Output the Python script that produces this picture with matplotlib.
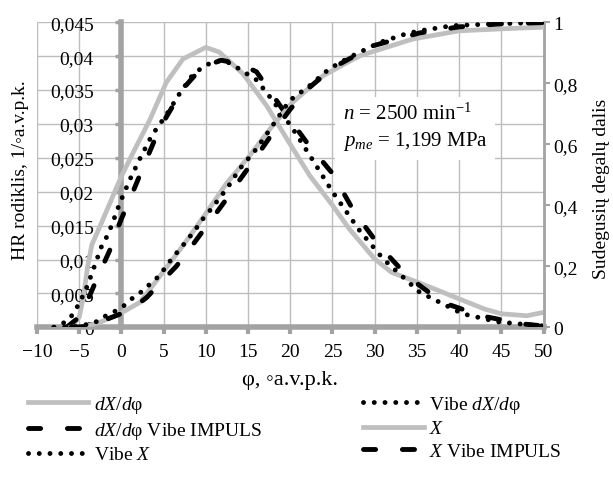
import matplotlib.pyplot as plt

plt.rcParams['font.family'] = ['Liberation Serif', 'DejaVu Serif']
plt.rcParams['mathtext.fontset'] = 'custom'
plt.rcParams['mathtext.rm'] = 'Liberation Serif'
plt.rcParams['mathtext.it'] = 'Liberation Serif:italic'

# HR rodiklis (left axis), crank angle in deg
dx_phi = [-6, -5, -4.5, -4, -3.5, -2.5, -1.2, 0, 1.4, 3.4, 5.3, 7.3, 10, 11.6, 14.4,
          17.2, 19.6, 22.3, 25, 27, 30, 32, 35, 40, 43, 45, 48, 50]
dx_val = [0, 0.0015, 0.0045, 0.009, 0.0122, 0.015, 0.0188, 0.0223, 0.0258, 0.0307,
          0.0361, 0.0396, 0.0413, 0.0406, 0.0374, 0.0327, 0.0278, 0.0224, 0.018,
          0.0145, 0.0101, 0.0081, 0.0067, 0.0042, 0.0027, 0.002, 0.0017, 0.0022]

vibe_dx_phi = [-8, -7, -6, -5, -4, -3, -2.4, -1.8, -1.2, -0.2, 1.0, 2.2, 3.6, 5.3, 6.9,
               8.3, 9.7, 11.0, 12.2, 13.6, 16.0, 17.9, 20.3, 22.7, 25.0, 28.2, 31.0,
               35.3, 40.4, 44.6, 48.9, 50]
vibe_dx_val = [0, 0.0005, 0.0015, 0.0035, 0.0062, 0.0097, 0.0118, 0.0132, 0.0149,
               0.0183, 0.0218, 0.0249, 0.0283, 0.0313, 0.0345, 0.037, 0.0385, 0.0392,
               0.0394, 0.0384, 0.0365, 0.0335, 0.0293, 0.0246, 0.02, 0.0143, 0.0101,
               0.0052, 0.002, 0.0008, 0.0003, 0.0002]

imp_dx_phi = [-6.5, -5, -4, -2.6, -1.4, -0.8, 0, 1.2, 2.6, 4.5, 7.3, 9.5, 11.8, 14, 16,
              19.3, 22, 25, 27.6, 30.5, 33.9, 38, 42.6, 47.5, 50]
imp_dx_val = [0, 0.0015, 0.004, 0.008, 0.0113, 0.0135, 0.016, 0.0195, 0.0237, 0.0293,
              0.0352, 0.0383, 0.0394, 0.0389, 0.0377, 0.0318, 0.0272, 0.0227, 0.017,
              0.0121, 0.0075, 0.0037, 0.0017, 0.0005, 0.0002]

# Sudegusiu degalu dalis (right axis)
x_phi = [-6, -5, -4, -2.6, -0.2, 2.2, 4.9, 7.3, 10.1, 12.4, 15.2, 17.9, 20.3, 23.9,
         28.2, 34.5, 40, 46.3, 50]
x_val = [0, 0.001, 0.005, 0.016, 0.044, 0.082, 0.18, 0.268, 0.377, 0.47, 0.563, 0.661,
         0.738, 0.825, 0.89, 0.945, 0.972, 0.98, 0.984]

vibe_x_phi = [-8, -6, -5, -4, -3, -2.4, -1, 0.1, 1.2, 2.4, 3.4, 4.5, 5.3, 6.2, 7.1, 8,
              8.9, 9.7, 10.7, 11.6, 12.6, 14, 16, 17.9, 19.9, 22.3, 24.6, 27, 30.6,
              33.7, 35.3, 39.2, 43.6, 47.9, 50]
vibe_x_val = [0, 0.001, 0.004, 0.01, 0.018, 0.03, 0.049, 0.066, 0.093, 0.117, 0.142,
              0.169, 0.2, 0.233, 0.262, 0.293, 0.326, 0.357, 0.39, 0.423, 0.459, 0.519,
              0.585, 0.661, 0.743, 0.792, 0.847, 0.885, 0.934, 0.962, 0.972, 0.989,
              0.994, 0.998, 0.999]

imp_x_phi = [-6, -5, -4, -3, -1.4, 0, 1.0, 3.0, 4.7, 6.5, 7.9, 9.5, 11, 12.6, 13.8, 16,
             18, 20, 22, 25, 29.8, 35.3, 40, 45, 50]
imp_x_val = [0, 0.001, 0.004, 0.012, 0.03, 0.045, 0.055, 0.098, 0.148, 0.2, 0.25, 0.31,
             0.366, 0.426, 0.475, 0.56, 0.64, 0.715, 0.78, 0.85, 0.923, 0.965, 0.985,
             0.995, 0.999]

x_ticks = [-10, -5, 0, 5, 10, 15, 20, 25, 30, 35, 40, 45, 50]
x_ticklabels = ['\u221210', '\u22125', '0', '5', '10', '15', '20', '25', '30', '35',
                '40', '45', '50']
y_ticks = [0, 0.005, 0.01, 0.015, 0.02, 0.025, 0.03, 0.035, 0.04, 0.045]
y_ticklabels = ['0', '0,005', '0,01', '0,015', '0,02', '0,025', '0,03', '0,035',
                '0,04', '0,045']
y2_ticks = [0, 0.2, 0.4, 0.6, 0.8, 1]
y2_ticklabels = ['0', '0,2', '0,4', '0,6', '0,8', '1']

axis_gray = '#a3a3a3'
grid_gray = '#bdbdbd'
line_gray = '#bfbfbf'
fs = 14

dotted = (0, (0.01, 2.2))
dashed = (0, (2.5, 5.5))
lw_gray = 3.4
lw_black = 3.5

fig = plt.figure(figsize=(6.13, 4.81), dpi=100)
ax = fig.add_axes([37 / 613, 1 - 328.3 / 481, 506.5 / 613, 305 / 481])
ax.spines['left'].set_position(('data', 0))
ax2 = ax.twinx()

l1, = ax.plot(dx_phi, dx_val, color=line_gray, lw=lw_gray, zorder=3, label='$dX/d$\u03c6')
l2, = ax.plot(vibe_dx_phi, vibe_dx_val, color='black', lw=lw_black, ls=dotted,
              dash_capstyle='round', zorder=4, label='Vibe $dX/d$\u03c6')
l3, = ax.plot(imp_dx_phi, imp_dx_val, color='black', lw=lw_black, ls=dashed,
              dash_capstyle='round', zorder=4, label='$dX/d$\u03c6 Vibe IMPULS')
l4, = ax2.plot(x_phi, x_val, color=line_gray, lw=lw_gray, zorder=3, label='$X$')
l5, = ax2.plot(vibe_x_phi, vibe_x_val, color='black', lw=lw_black, ls=dotted,
               dash_capstyle='round', zorder=4, label='Vibe $X$')
l6, = ax2.plot(imp_x_phi, imp_x_val, color='black', lw=lw_black, ls=dashed,
               dash_capstyle='round', zorder=4, label='$X$ Vibe IMPULS')

ax.set_xlim(-10, 50)
ax.set_ylim(0, 0.045)
ax2.set_ylim(0, 1)

ax.set_xticks(x_ticks)
ax.set_xticklabels(x_ticklabels)
ax.set_yticks(y_ticks)
ax.set_yticklabels(y_ticklabels)
ax2.set_yticks(y2_ticks)
ax2.set_yticklabels(y2_ticklabels)

ax.grid(True, color=grid_gray, lw=1)
ax.set_axisbelow(True)

for a in (ax, ax2):
    a.spines['top'].set_visible(False)
ax.spines['right'].set_visible(False)
ax2.spines['left'].set_visible(False)
ax2.spines['bottom'].set_visible(False)
ax.spines['left'].set_color(axis_gray)
ax.spines['left'].set_linewidth(4)
ax.spines['bottom'].set_color(axis_gray)
ax.spines['bottom'].set_linewidth(4)
ax2.spines['right'].set_color(axis_gray)
ax2.spines['right'].set_linewidth(2)

ax.tick_params(axis='x', direction='out', length=5, width=3, color=axis_gray, pad=6,
               labelsize=fs)
ax.tick_params(axis='y', direction='out', length=4, width=2.5, color=axis_gray, pad=16,
               labelsize=fs)
ax2.tick_params(axis='y', direction='out', length=4, width=1.5, color=axis_gray, pad=3,
                labelsize=fs)

ax.set_xlabel('\u03c6, \u25e6a.v.p.k.', fontsize=16)
ax.xaxis.set_label_coords(0.5, -(381 - 328.3) / 305)
ax.xaxis.label.set_va('center')
ax.set_ylabel('HR rodiklis, 1/\u25e6a.v.p.k.', fontsize=fs)
ax.yaxis.set_label_coords(-(37 - 21) / 506.5, 0.52)
ax.yaxis.label.set_va('center')
ax2.set_ylabel('Sudegusių degalų dalis', fontsize=fs)
ax2.yaxis.set_label_coords((602 - 37) / 506.5, 0.457)
ax2.yaxis.label.set_va('center')

ax2.text(26.2, 0.655, '$n$ = 2500 min$^{\u22121}$\n$p_{me}$ = 1,199 MPa',
         transform=ax2.transData, fontsize=15, va='center', ha='left',
         linespacing=1.35, zorder=5,
         bbox=dict(boxstyle='square,pad=0.35', fc='white', ec='none'))

fig.legend(handles=[l1, l3, l5, l2, l4, l6], ncol=2, loc='upper left',
           bbox_to_anchor=(28 / 613, 1 - 395 / 481), frameon=False, fontsize=fs,
           handlelength=3.1, handletextpad=0.3, columnspacing=5.2, labelspacing=0.25,
           borderpad=0, borderaxespad=0)

fig.savefig('out.png', dpi=100)
